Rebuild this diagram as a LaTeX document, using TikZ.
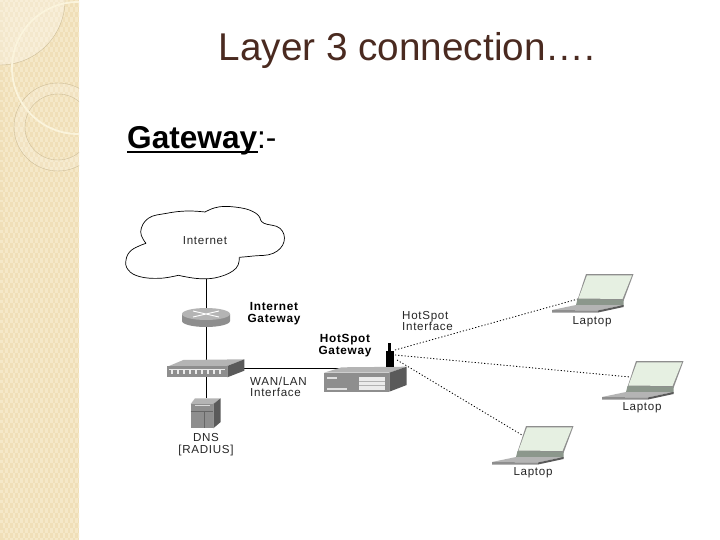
\documentclass[tikz,border=0pt]{standalone}
\usepackage{fontspec}
\setmainfont{Liberation Sans}
\newfontfamily\diagfont[LetterSpace=6]{Liberation Sans}
\definecolor{side}{HTML}{F0DFB8}
\definecolor{sidel}{HTML}{F5E8C8}
\definecolor{sideline}{HTML}{CDBD98}
\definecolor{swirl}{HTML}{FBF4DC}
\definecolor{titlec}{HTML}{4A2A20}
\definecolor{devtop}{HTML}{B4B4B4}
\definecolor{devfront}{HTML}{8E8E8E}
\definecolor{devside}{HTML}{5A5A5A}
\definecolor{screen}{HTML}{E6F0E2}
\definecolor{hinge}{HTML}{8C978C}
\tikzset{
  link/.style={draw=black,line width=0.9pt},
  radio/.style={draw=black,line width=0.8pt,dash pattern=on 1.2pt off 2pt},
  lab/.style={font=\diagfont\fontsize{11.6}{11.5}\selectfont,align=center,inner sep=0pt,text=black!85},
  blab/.style={font=\diagfont\bfseries\fontsize{11.8}{11.5}\selectfont,align=center,inner sep=0pt},
  cloudline/.style={draw=black,line width=0.7pt},
  pics/lappc/.style={code={
    \fill[devfront] (-1,0) -- (46.5,0) -- (36.5,27) -- (-9.5,26) -- cycle;
    \fill[screen] (0,1.3) -- (45,1.3) -- (35.5,25) -- (-8.5,24.5) -- cycle;
    \fill[hinge] (-9.5,25) -- (36.5,26) -- (36.5,32) -- (-11,31) -- cycle;
    \fill[devtop] (-35,36) -- (-11,31) -- (36.5,31) -- (11,36.5) -- cycle;
    \fill[devfront] (-35,36) -- (11,36.5) -- (11,38.5) -- (-35,38.5) -- cycle;
    \fill[devside] (11,36.5) -- (36.5,31) -- (36.5,33) -- (11,38.5) -- cycle;
  }}
}
\begin{document}
\begin{tikzpicture}[x=1pt,y=-1pt]
\useasboundingbox (0,0) rectangle (720,540);
\fill[white] (0,0) rectangle (720,540);
% sidebar
\begin{scope}
\clip (0,0) rectangle (79,540);
\fill[side] (0,0) rectangle (79,540);
\foreach \r in {0,...,107}{
  \pgfmathtruncatemacro{\off}{mod(\r,2)}
  \foreach \c in {0,...,16}{
    \fill[sidel] ({\c*5+\off*2.5},{\r*5}) rectangle ++(2.5,2.5);
    \fill[sidel] ({\c*5+\off*2.5+2.5},{\r*5+2.5}) rectangle ++(2.5,2.5);
  }
}
\fill[white,opacity=0.3] (0,0) -- (65,0) arc[start angle=0,end angle=90,radius=65] -- cycle;
\draw[sideline,line width=0.4pt] (65,0) arc[start angle=0,end angle=90,radius=65];
\fill[white,opacity=0.15,even odd rule] (58,127) circle[radius=44] (58,127) circle[radius=33];
\draw[sideline,line width=0.4pt] (58,127) circle[radius=44] (58,127) circle[radius=33];
\draw[swirl,line width=1.8pt] (78,68) circle[radius=66];
\end{scope}
% titles
\node[inner sep=0pt,text=titlec,font=\fontsize{38.7}{42}\selectfont] (title) at (407,50) {Layer 3 connection….};
\node[inner sep=0pt,anchor=base west,font=\fontsize{31.6}{34}\selectfont] (head) at (127,148.5) {\textbf{Gateway}:-};
\fill[black] (127,151) rectangle (258,153.5);
% coordinates of devices
\coordinate (cloudb) at (206,279);
\coordinate (routert) at (206,310);
\coordinate (routerb) at (206,327);
\coordinate (hubt) at (206,361);
\coordinate (hubb) at (206,377);
\coordinate (dnst) at (206,398);
\coordinate (hubr) at (244,368.5);
\coordinate (gwl) at (366,368.5);
\coordinate (ant1) at (395,350);
\coordinate (ant2) at (395,355);
\coordinate (ant3) at (397,360);
\coordinate (lap1) at (578,299);
\coordinate (lap2) at (630,377);
\coordinate (lap3) at (522,435);
% connectors
\draw[link] (cloudb) -- (routert);
\draw[link] (routerb) -- (hubt);
\draw[link] (hubb) -- (dnst);
\draw[link] (hubr) -- (gwl);
\draw[radio] (ant1) -- (lap1);
\draw[radio] (ant2) -- (lap2);
\draw[radio] (ant3) -- (lap3);
% cloud
\draw[cloudline] plot[smooth,tension=0.7] coordinates {(146,243.3) (140.7,231.7) (148.3,218.3) (166.7,213.3) (186.7,211) (205,212)};
\draw[cloudline] plot[smooth,tension=0.7] coordinates {(205,212) (220,206.7) (241.7,208) (255,212.7) (260,218)};
\draw[cloudline] plot[smooth,tension=0.7] coordinates {(260,218) (264,223.3) (280,228.3) (284,241.7) (273.3,253.3) (253.3,256) (239.3,257.3)};
\draw[cloudline] plot[smooth,tension=0.7] coordinates {(239.3,257.3) (236,268.3) (220,276.7) (200,278.7) (178.3,275.3)};
\draw[cloudline] plot[smooth,tension=0.7] coordinates {(178.3,275.3) (160,278.3) (140,276.7) (128.3,270) (126,260) (131.7,250) (146,243.3)};
\node[lab] (internet) at (205,241) {Internet};
% router
\fill[devfront] (182,314) -- (182,321) arc[start angle=180,end angle=0,x radius=24,y radius=6] -- (230,314) -- cycle;
\fill[devtop] (206,314) ellipse[x radius=24,y radius=6];
\draw[white,line width=0.9pt] (193,311) -- (219,317) (193,317) -- (219,311);
\node[blab] (igw) at (274,313.5) {Internet\\Gateway};
% hub
\fill[devtop] (167.3,366.7) -- (183.3,360) -- (244.3,359.3) -- (227.3,366) -- cycle;
\fill[devfront] (167.3,366) rectangle (227.3,377.3);
\fill[devside] (227.3,366) -- (244.3,359.3) -- (244.3,370.7) -- (227.3,377.3) -- cycle;
\fill[white!92!black] (169,368.5) rectangle (225,370);
\foreach \i in {171,177,...,219}{\fill[white!92!black] (\i,370) rectangle ++(2,4);}
% DNS
\fill[devtop] (190.7,404) -- (195,398.3) -- (220.7,398.3) -- (213.3,404) -- cycle;
\fill[devfront] (190.7,404) rectangle (213.3,428.3);
\fill[devside] (213.3,404) -- (220.7,398.3) -- (220.7,422) -- (213.3,428.3) -- cycle;
\draw[black!60,line width=0.6pt] (190.7,411) -- (213.3,411) (204,411) -- (204,428.3);
\fill[white!85!black] (195,404.5) rectangle (210,406);
\node[lab] (dns) at (206,444.5) {DNS\\{[}RADIUS{]}};
% gateway
\fill[devtop] (324,372.7) -- (341.7,367.3) -- (406.7,366.7) -- (389.3,372.7) -- cycle;
\fill[devfront] (324,372.7) rectangle (389.3,391.7);
\fill[devside] (389.3,372.7) -- (406.7,366.7) -- (406.7,385) -- (389.3,391.7) -- cycle;
\fill[black!8] (359.3,376.7) rectangle (385,390);
\draw[black!30,line width=0.4pt] (359.3,381) -- (385,381) (359.3,385.5) -- (385,385.5);
\fill[black!12] (327,377) rectangle (337,379);
\fill[black!12] (327,388) rectangle (347,390);
\fill[black] (386,351) rectangle (394,367);
\fill[black] (388,343) rectangle (391,351);
\node[blab] (hgw) at (345,345.5) {HotSpot\\Gateway};
\node[lab,align=left,anchor=west] (wan) at (250,387) {WAN/LAN\\Interface};
\node[lab,align=left,anchor=west] (hif) at (402,321) {HotSpot\\Interface};
% laptops
\pic at (587,274) {lappc};
\pic at (637,361) {lappc};
\pic at (527,426) {lappc};
\node[lab] (l1) at (592,322) {Laptop};
\node[lab] (l2) at (642,408) {Laptop};
\node[lab] (l3) at (533,473) {Laptop};
\end{tikzpicture}
\end{document}
